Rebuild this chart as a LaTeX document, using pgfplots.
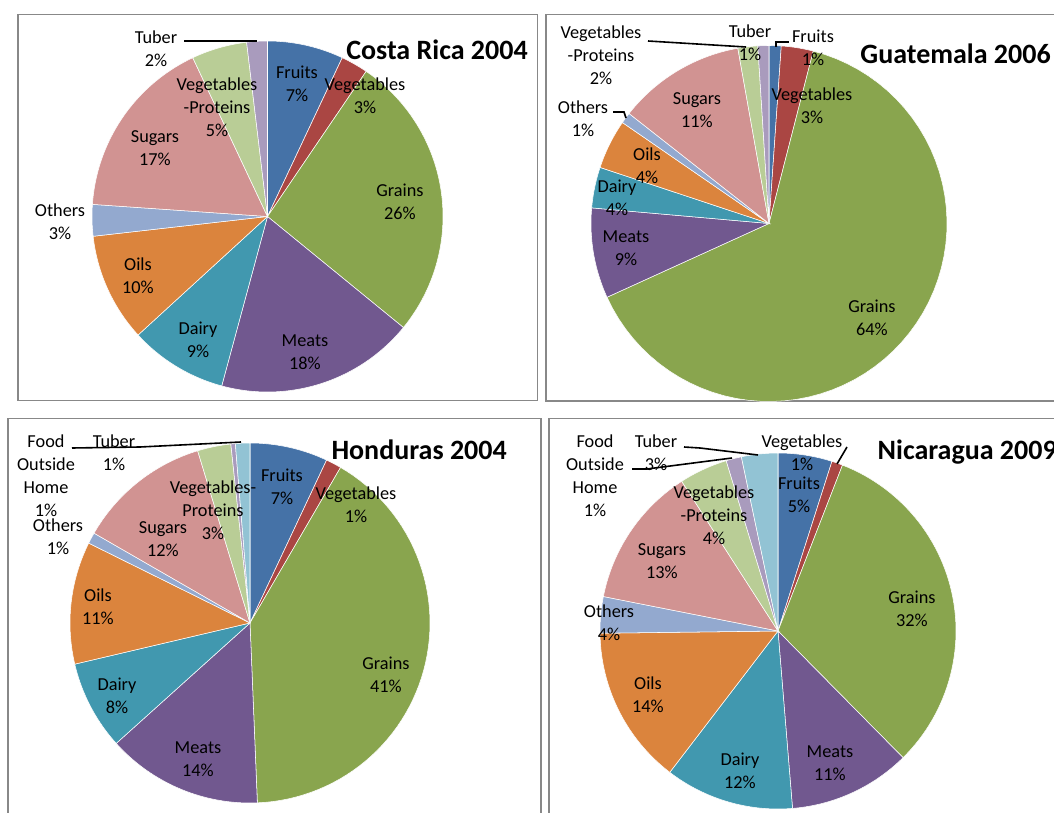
\documentclass[border=0pt]{standalone}
\usepackage{fontspec}
\setmainfont{Carlito}
\usepackage{pgfplots}
\usepackage{pgfplotstable}
\pgfplotsset{compat=1.18}

\definecolor{cFru}{HTML}{4572A7}
\definecolor{cVeg}{HTML}{AA4643}
\definecolor{cGra}{HTML}{89A54E}
\definecolor{cMea}{HTML}{71588F}
\definecolor{cDai}{HTML}{4198AF}
\definecolor{cOil}{HTML}{DB843D}
\definecolor{cOth}{HTML}{93A9CF}
\definecolor{cSug}{HTML}{D19392}
\definecolor{cVP}{HTML}{B9CD96}
\definecolor{cLav}{HTML}{A99BBD}
\definecolor{cLtl}{HTML}{92C3D4}
\definecolor{frame}{HTML}{888888}

% shares (percent), clockwise from 12 o'clock
\pgfplotstableread{
cat share col
Fruits 7.0 cFru
Vegetables 2.5 cVeg
Grains 26.4 cGra
Meats 18.3 cMea
Dairy 9.0 cDai
Oils 10.0 cOil
Others 2.9 cOth
Sugars 16.9 cSug
VegProteins 5.1 cVP
Tuber 1.9 cLav
}\tabCR

\pgfplotstableread{
cat share col
Fruits 1.1 cFru
Vegetables 2.9 cVeg
Grains 64.2 cGra
Meats 8.2 cMea
Dairy 3.7 cDai
Oils 4.5 cOil
Others 1.0 cOth
Sugars 11.6 cSug
VegProteins 1.8 cVP
Tuber 1.0 cLav
}\tabGU

\pgfplotstableread{
cat share col
Fruits 7.0 cFru
Vegetables 1.4 cVeg
Grains 41.0 cGra
Meats 14.0 cMea
Dairy 8.0 cDai
Oils 11.0 cOil
Others 1.0 cOth
Sugars 12.0 cSug
VegProteins 3.0 cVP
Tuber 0.4 cLav
FoodOutsideHome 1.3 cLtl
}\tabHO

\pgfplotstableread{
cat share col
Fruits 4.9 cFru
Vegetables 1.0 cVeg
Grains 31.7 cGra
Meats 11.1 cMea
Dairy 11.7 cDai
Oils 14.4 cOil
Others 3.3 cOth
Sugars 12.8 cSug
VegProteins 4.4 cVP
FoodOutsideHome 1.4 cLav
Tuber 3.3 cLtl
}\tabNI

% #1 table, #2 cx, #3 cy, #4 radius (pixel units, y downwards)
\newcommand\drawpie[4]{%
  \pgfplotstablegetrowsof{#1}%
  \pgfmathtruncatemacro\pielast{\pgfplotsretval-1}%
  \gdef\pietotal{0}%
  \foreach \i in {0,...,\pielast}{%
    \pgfplotstablegetelem{\i}{share}\of{#1}%
    \pgfmathsetmacro\pietmp{\pietotal+\pgfplotsretval}%
    \xdef\pietotal{\pietmp}}%
  \gdef\piecum{0}%
  \foreach \i in {0,...,\pielast}{%
    \pgfplotstablegetelem{\i}{share}\of{#1}\let\pieval\pgfplotsretval
    \pgfplotstablegetelem{\i}{col}\of{#1}\let\piecol\pgfplotsretval
    \pgfmathsetmacro\pa{3.6*(\piecum/\pietotal*100)}%
    \pgfmathsetmacro\pb{3.6*((\piecum+\pieval)/\pietotal*100)}%
    \edef\piecmd{\noexpand\addplot[fill=\piecol, draw=white, line width=0.4pt,
      domain=\pa:\pb, samples=60]
      ({#2+#4*sin(x)},{#3-#4*cos(x)}) -- (axis cs:#2,#3) -- cycle;}%
    \piecmd
    \pgfmathsetmacro\pietmp{\piecum+\pieval}%
    \xdef\piecum{\pietmp}}%
}

\newcommand\lbl{\fontsize{13.7}{17.3}\selectfont}
\newcommand\ttl{\fontsize{21}{24}\selectfont\bfseries}
\tikzset{lab/.style={inner sep=0pt, align=center, font=\lbl},
         ttlnode/.style={inner sep=0pt, font=\ttl, anchor=base east}}

\begin{document}
\begin{tikzpicture}
\begin{axis}[
  scale only axis, width=790.5pt, height=609.75pt,
  xmin=0, xmax=1054, ymin=0, ymax=813, y dir=reverse,
  hide axis, clip=true,
]
% panel frames
\addplot[frame, line width=1.4pt] coordinates {(18,400.5) (18,14.5) (537.5,14.5) (537.5,400.5) (18,400.5)};
\addplot[frame, line width=1.4pt] coordinates {(1070,14.5) (546,14.5) (546,401) (1070,401)};
\addplot[frame, line width=1.4pt] coordinates {(8,830) (8,418.5) (541,418.5) (541,830)};
\addplot[frame, line width=1.4pt] coordinates {(1070,418.5) (549,418.5) (549,830)};

% pies
\drawpie{\tabCR}{267.5}{216.5}{175.5}
\drawpie{\tabGU}{769}{223.5}{178}
\drawpie{\tabHO}{250}{623}{180}
\drawpie{\tabNI}{778}{631}{178}

% leader lines
\addplot[black, line width=1.2pt] coordinates {(184,41) (257,41)};
\addplot[black, line width=1.2pt] coordinates {(648,41) (746,47)};
\addplot[black, line width=1.2pt] coordinates {(613,112) (624,112) (626,118)};
\addplot[black, line width=1.2pt] coordinates {(776,47) (776,42) (789,42)};
\addplot[black, line width=1.2pt] coordinates {(72,448) (140,447) (241,442)};
\addplot[black, line width=1.2pt] coordinates {(684,447) (700,448) (758,455)};
\addplot[black, line width=1.2pt] coordinates {(632,469) (647,469) (732,458)};
\addplot[black, line width=1.2pt] coordinates {(847,447) (837,464)};

% Costa Rica
\node[ttlnode] at (axis cs:528,60) {Costa Rica 2004};
\node[lab] at (axis cs:156,48.5) {Tuber\\2\%};
\node[lab] at (axis cs:297,84) {Fruits\\7\%};
\node[lab] at (axis cs:365,96) {Vegetables\\3\%};
\node[lab] at (axis cs:400,202) {Grains\\26\%};
\node[lab] at (axis cs:305,352) {Meats\\18\%};
\node[lab] at (axis cs:198,340) {Dairy\\9\%};
\node[lab] at (axis cs:138,276) {Oils\\10\%};
\node[lab] at (axis cs:60,222) {Others\\3\%};
\node[lab] at (axis cs:155,148) {Sugars\\17\%};
\node[lab] at (axis cs:217,107) {Vegetables\\-Proteins\\5\%};

% Guatemala
\node[ttlnode] at (axis cs:1051,64) {Guatemala 2006};
\node[lab] at (axis cs:601,55) {Vegetables\\-Proteins\\2\%};
\node[lab] at (axis cs:750,43) {Tuber\\1\%};
\node[lab] at (axis cs:813,47.5) {Fruits\\1\%};
\node[lab] at (axis cs:583,119) {Others\\1\%};
\node[lab] at (axis cs:697,110) {Sugars\\11\%};
\node[lab] at (axis cs:812,106) {Vegetables\\3\%};
\node[lab] at (axis cs:647,166) {Oils\\4\%};
\node[lab] at (axis cs:617,198) {Dairy\\4\%};
\node[lab] at (axis cs:626,248) {Meats\\9\%};
\node[lab] at (axis cs:872,318) {Grains\\64\%};

% Honduras
\node[ttlnode] at (axis cs:507,459) {Honduras 2004};
\node[lab] at (axis cs:46,476) {Food\\Outside\\Home\\1\%};
\node[lab] at (axis cs:114,453) {Tuber\\1\%};
\node[lab] at (axis cs:58,537) {Others\\1\%};
\node[lab] at (axis cs:163,539) {Sugars\\12\%};
\node[lab] at (axis cs:213,510) {Vegetables-\\Proteins\\3\%};
\node[lab] at (axis cs:282,487) {Fruits\\7\%};
\node[lab] at (axis cs:356,505) {Vegetables\\1\%};
\node[lab] at (axis cs:98,607) {Oils\\11\%};
\node[lab] at (axis cs:386,675) {Grains\\41\%};
\node[lab] at (axis cs:117,696) {Dairy\\8\%};
\node[lab] at (axis cs:198,759) {Meats\\14\%};

% Nicaragua
\node[ttlnode] at (axis cs:1057,459) {Nicaragua 2009};
\node[lab] at (axis cs:595,475.5) {Food\\Outside\\Home\\1\%};
\node[lab] at (axis cs:656,453) {Tuber\\3\%};
\node[lab] at (axis cs:802,453) {Vegetables\\1\%};
\node[lab] at (axis cs:799,495) {Fruits\\5\%};
\node[lab] at (axis cs:714,515.5) {Vegetables\\-Proteins\\4\%};
\node[lab] at (axis cs:662,561) {Sugars\\13\%};
\node[lab] at (axis cs:609,623) {Others\\4\%};
\node[lab] at (axis cs:912,609) {Grains\\32\%};
\node[lab] at (axis cs:648,695) {Oils\\14\%};
\node[lab] at (axis cs:740,771) {Dairy\\12\%};
\node[lab] at (axis cs:830,763) {Meats\\11\%};
\end{axis}
\pgfresetboundingbox
\path (current axis.south west) rectangle (current axis.north east);
\end{tikzpicture}
\end{document}
